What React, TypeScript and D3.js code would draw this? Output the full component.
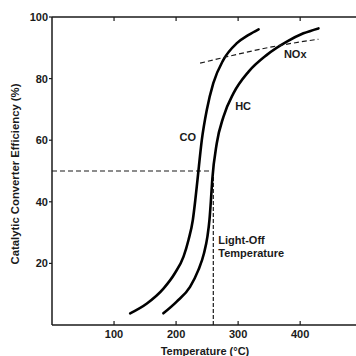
import { useEffect, useRef } from 'react';
import * as d3 from 'd3';

type Pt = [number, number];

// temperature (°C), efficiency (%)
const coCurve: Pt[] = [
  [126, 3.8], [153, 7.0], [180, 11.9], [198, 16.8], [212, 22.2], [220, 27.6],
  [227, 34.1], [231, 40.6], [234.5, 47.1], [241.5, 60.1], [249.5, 69.8],
  [260, 78.5], [276, 86.0], [298, 91.5], [317, 94.2], [333, 96.0],
];
const hcCurve: Pt[] = [
  [179.5, 3.8], [201, 7.6], [222.5, 12.4], [236, 17.9], [245, 23.3], [250.5, 28.7],
  [253.8, 34.1], [256.2, 40.6], [258.3, 47.1], [265.6, 59.0], [276.3, 67.6],
  [292.4, 75.2], [316.6, 82.2], [346.3, 87.7], [378.5, 92.0], [405.3, 94.7], [429.5, 96.3],
];
const noxCurve: Pt[] = [[238.7, 85.0], [281.8, 87.1], [356.9, 90.4], [429.5, 92.8]];

const xTicks = [100, 200, 300, 400];
const yTicks = [20, 40, 60, 80, 100];
const lightOff: Pt = [260, 50];

const curveLabels: { text: string; at: Pt }[] = [
  { text: 'CO', at: [219, 61] },
  { text: 'HC', at: [308, 71] },
  { text: 'NOx', at: [392, 88] },
];

const FONT = 'Liberation Sans, Arial, sans-serif';

export default function App() {
  const svgRef = useRef<SVGSVGElement>(null);

  useEffect(() => {
    if (!svgRef.current) return;
    const svg = d3.select(svgRef.current);
    svg.selectAll('*').remove();

    const width = 356;
    const height = 356;
    const margin = { top: 17, right: 0, bottom: 31, left: 52 };

    const x = d3.scaleLinear().domain([0, 490]).range([margin.left, width - margin.right]);
    const y = d3.scaleLinear().domain([0, 100]).range([height - margin.bottom, margin.top]);

    svg.append('rect').attr('width', width).attr('height', height).attr('fill', '#fff');

    const ink = '#1a1a1a';

    // frame lines (left, bottom, top)
    svg.append('line')
      .attr('x1', x(0)).attr('x2', x(0)).attr('y1', y(100)).attr('y2', y(0))
      .attr('stroke', ink).attr('stroke-width', 1.5);
    svg.append('line')
      .attr('x1', x(0)).attr('x2', x(490)).attr('y1', y(0)).attr('y2', y(0))
      .attr('stroke', ink).attr('stroke-width', 1.5);
    svg.append('line')
      .attr('x1', x(0)).attr('x2', x(490)).attr('y1', y(100)).attr('y2', y(100))
      .attr('stroke', ink).attr('stroke-width', 1.5);

    // x ticks: inward on bottom and top
    xTicks.forEach((t) => {
      svg.append('line')
        .attr('x1', x(t)).attr('x2', x(t)).attr('y1', y(0)).attr('y2', y(0) - 4)
        .attr('stroke', ink).attr('stroke-width', 1.2);
      svg.append('line')
        .attr('x1', x(t)).attr('x2', x(t)).attr('y1', y(100)).attr('y2', y(100) + 4)
        .attr('stroke', ink).attr('stroke-width', 1.2);
      svg.append('text')
        .attr('x', x(t)).attr('y', y(0) + 13)
        .attr('text-anchor', 'middle')
        .attr('font-family', FONT).attr('font-weight', 'bold').attr('font-size', 11)
        .attr('fill', ink)
        .text(t);
    });

    // y ticks: outward on left
    yTicks.forEach((t) => {
      svg.append('line')
        .attr('x1', x(0) - 3).attr('x2', x(0)).attr('y1', y(t)).attr('y2', y(t))
        .attr('stroke', ink).attr('stroke-width', 1.2);
      svg.append('text')
        .attr('x', x(0) - 4).attr('y', y(t) + 4)
        .attr('text-anchor', 'end')
        .attr('font-family', FONT).attr('font-weight', 'bold').attr('font-size', 11)
        .attr('fill', ink)
        .text(t);
    });

    // axis titles
    svg.append('text')
      .attr('x', 205).attr('y', 355)
      .attr('text-anchor', 'middle')
      .attr('font-family', FONT).attr('font-weight', 'bold').attr('font-size', 11)
      .attr('fill', ink)
      .text('Temperature (°C)');
    svg.append('text')
      .attr('transform', `translate(19, ${174}) rotate(-90)`)
      .attr('text-anchor', 'middle')
      .attr('font-family', FONT).attr('font-weight', 'bold').attr('font-size', 11.3)
      .attr('fill', ink)
      .text('Catalytic Converter Efficiency (%)');

    // light-off guides
    svg.append('line')
      .attr('x1', x(0)).attr('x2', x(lightOff[0])).attr('y1', y(lightOff[1])).attr('y2', y(lightOff[1]))
      .attr('stroke', ink).attr('stroke-width', 1.2).attr('stroke-dasharray', '5,3');
    svg.append('line')
      .attr('x1', x(lightOff[0])).attr('x2', x(lightOff[0])).attr('y1', y(lightOff[1])).attr('y2', y(0))
      .attr('stroke', ink).attr('stroke-width', 1.2).attr('stroke-dasharray', '4,2');

    const line = d3.line<Pt>()
      .x((d) => x(d[0]))
      .y((d) => y(d[1]))
      .curve(d3.curveMonotoneX);

    svg.append('path').attr('d', line(coCurve))
      .attr('fill', 'none').attr('stroke', '#000').attr('stroke-width', 2.6).attr('stroke-linecap', 'round');
    svg.append('path').attr('d', line(hcCurve))
      .attr('fill', 'none').attr('stroke', '#000').attr('stroke-width', 2.6).attr('stroke-linecap', 'round');
    svg.append('path').attr('d', line(noxCurve))
      .attr('fill', 'none').attr('stroke', ink).attr('stroke-width', 1.2).attr('stroke-dasharray', '5,3');

    curveLabels.forEach((l) => {
      svg.append('text')
        .attr('x', x(l.at[0])).attr('y', y(l.at[1]) + 4)
        .attr('text-anchor', 'middle')
        .attr('font-family', FONT).attr('font-weight', 'bold').attr('font-size', 11)
        .attr('fill', ink)
        .text(l.text);
    });

    const lo = svg.append('text')
      .attr('font-family', FONT).attr('font-weight', 'bold').attr('font-size', 11)
      .attr('fill', ink);
    lo.append('tspan').attr('x', x(lightOff[0]) + 5).attr('y', 244).text('Light-Off');
    lo.append('tspan').attr('x', x(lightOff[0]) + 5).attr('y', 257).text('Temperature');
  }, []);

  return (
    <svg
      ref={svgRef}
      width={356}
      height={356}
      style={{ position: 'absolute', left: 0, top: 0 }}
    />
  );
}
